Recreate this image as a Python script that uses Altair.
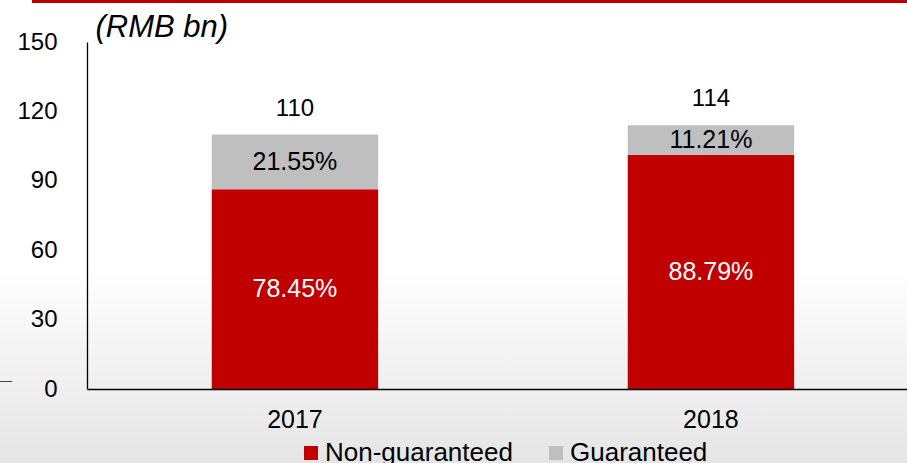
import altair as alt
import pandas as pd

years = ["2017", "2018"]
totals = [110, 114]
non_guaranteed_pct = [78.45, 88.79]
guaranteed_pct = [21.55, 11.21]
series_names = ["Non-guaranteed", "Guaranteed"]
series_colors = ["#c00000", "#bfbfbf"]
y_ticks = [0, 30, 60, 90, 120, 150]

rows = []
for yr, tot, ng, g in zip(years, totals, non_guaranteed_pct, guaranteed_pct):
    ng_val = tot * ng / 100.0
    g_val = tot - ng_val
    rows.append({"year": yr, "series": "Non-guaranteed", "y0": 0.0, "y1": ng_val,
                 "mid": ng_val / 2.0, "label": f"{ng:.2f}%"})
    rows.append({"year": yr, "series": "Guaranteed", "y0": ng_val, "y1": ng_val + g_val,
                 "mid": ng_val + g_val / 2.0, "label": f"{g:.2f}%"})
seg = pd.DataFrame(rows)
tot_df = pd.DataFrame({"year": years, "total": totals, "label": [str(t) for t in totals]})

FONT = "Liberation Sans"

x_scale = alt.Scale(domain=years, paddingInner=0.6, paddingOuter=0.2856, align=0.525, round=False)
y_scale = alt.Scale(domain=[0, 150], nice=False, zero=True)

bg = alt.Chart(alt.Data(values=[{"a": 1}])).mark_rect(
    color=alt.LinearGradient(
        gradient="linear",
        stops=[alt.GradientStop(color="#ffffff", offset=0),
               alt.GradientStop(color="#ffffff", offset=0.58),
               alt.GradientStop(color="#e5e5e5", offset=1)],
        x1=0, x2=0, y1=0, y2=1),
    clip=False,
).encode(x=alt.value(-87), x2=alt.value(820), y=alt.value(-42), y2=alt.value(421))

top_line = alt.Chart(alt.Data(values=[{"a": 1}])).mark_rule(
    color="#c00000", strokeWidth=3
).encode(x=alt.value(-55), x2=alt.value(820), y=alt.value(-40.5))

stray_tick = alt.Chart(alt.Data(values=[{"a": 1}])).mark_rule(
    color="#444444", strokeWidth=1
).encode(x=alt.value(-87), x2=alt.value(-75), y=alt.value(339.5))

bars = alt.Chart(seg).mark_bar().encode(
    x=alt.X("year:N", scale=x_scale, sort=years,
            axis=alt.Axis(title=None, labelAngle=0, labelFontSize=25, labelColor="black",
                          labelFont=FONT, labelPadding=18, ticks=False, zindex=1,
                          domainColor="black", domainWidth=1.3)),
    y=alt.Y("y0:Q", scale=y_scale,
            axis=alt.Axis(title="(RMB bn)", titleAngle=0, titleAlign="left",
                          titleBaseline="alphabetic", titleX=8, titleY=-6,
                          titleFontSize=31, titleFontStyle="italic", titleFontWeight="normal",
                          titleFont=FONT, titleColor="black", zindex=1,
                          values=y_ticks, labelFontSize=24, labelFont=FONT, labelColor="black",
                          labelPadding=30, ticks=False, grid=False,
                          domainColor="black", domainWidth=1.3)),
    y2="y1:Q",
    color=alt.Color("series:N",
                    scale=alt.Scale(domain=series_names, range=series_colors),
                    legend=alt.Legend(title=None, orient="none", legendX=211, legendY=398,
                                      direction="horizontal", symbolType="square",
                                      symbolSize=196, symbolStrokeWidth=0,
                                      labelFontSize=26, labelFont=FONT, labelColor="black",
                                      labelLimit=0, zindex=1,
                                      labelOffset=1, columnPadding=30, padding=0)),
)

pct_text = alt.Chart(seg).mark_text(fontSize=25, font=FONT, baseline="middle").encode(
    x=alt.X("year:N", scale=x_scale, sort=years),
    y=alt.Y("mid:Q", scale=y_scale),
    text="label:N",
    color=alt.condition(alt.datum.series == "Non-guaranteed", alt.value("white"), alt.value("black")),
)

tot_text = alt.Chart(tot_df).mark_text(fontSize=24, font=FONT, baseline="middle", dy=-26,
                                       color="black").encode(
    x=alt.X("year:N", scale=x_scale, sort=years),
    y=alt.Y("total:Q", scale=y_scale),
    text="label:N",
)

chart = alt.layer(bg, top_line, stray_tick, bars, pct_text, tot_text).properties(
    width=820, height=347,
    autosize=alt.AutoSizeParams(type="none"),
    padding={"left": 87, "top": 42, "right": 0, "bottom": 74},
    background="white",
).configure_view(stroke=None).configure(font=FONT)

chart.save("out.html", embed_options={"renderer": "svg", "actions": False})
